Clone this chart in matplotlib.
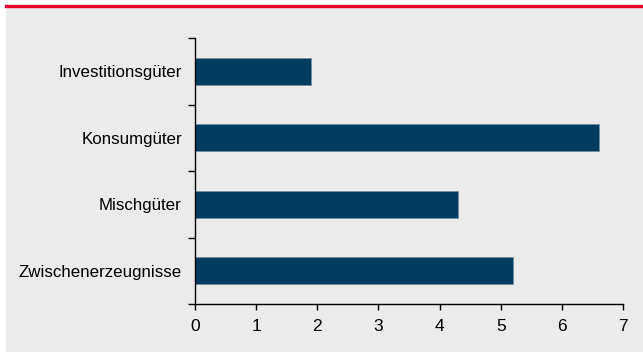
import matplotlib
matplotlib.use("Agg")
import matplotlib.pyplot as plt
from matplotlib.patches import Rectangle
from matplotlib.lines import Line2D

categories = ["Investitionsgüter", "Konsumgüter", "Mischgüter", "Zwischenerzeugnisse"]
values = [1.9, 6.6, 4.3, 5.2]
xticks = [0, 1, 2, 3, 4, 5, 6, 7]

plt.rcParams['font.family'] = ['Liberation Sans', 'DejaVu Sans']

fig = plt.figure(figsize=(6.43, 3.52), dpi=100)
fig.patch.set_facecolor('white')
# grey panel and red top rule
fig.add_artist(Rectangle((6 / 643, 0), 1 - 6 / 643, 1 - 7 / 352,
                         transform=fig.transFigure, facecolor='#ebebeb', edgecolor='none', zorder=0))
fig.add_artist(Line2D([6 / 643, 1], [1 - 6 / 352, 1 - 6 / 352],
                      transform=fig.transFigure, color='#e8002b', linewidth=2.4))

ax = fig.add_axes([195 / 643, 1 - 304 / 352, (623 - 195) / 643, (304 - 38) / 352])
ax.set_facecolor('none')

pos = list(range(len(categories)))[::-1]
ax.barh(pos, values, height=0.4, color='#023d5f', edgecolor='#6f8fa5', linewidth=0.5)

ax.set_xlim(0, 7)
ax.set_ylim(-0.5, len(categories) - 0.5)
ax.set_xticks(xticks)
ax.set_xticklabels([str(t) for t in xticks], fontsize=12.5)
ax.set_yticks(pos)
ax.set_yticklabels(categories, fontsize=12.2)
ax.set_yticks([p + 0.5 for p in range(-1, len(categories))], minor=True)
ax.tick_params(axis='y', which='major', length=0, pad=9.5)
ax.tick_params(axis='y', which='minor', length=5, width=1, direction='out', color='black')
ax.tick_params(axis='x', length=4, width=1, direction='out', color='black', pad=7)

for s in ['top', 'right']:
    ax.spines[s].set_visible(False)
for s in ['left', 'bottom']:
    ax.spines[s].set_color('black')
    ax.spines[s].set_linewidth(1)

fig.savefig("out.png", dpi=100)
